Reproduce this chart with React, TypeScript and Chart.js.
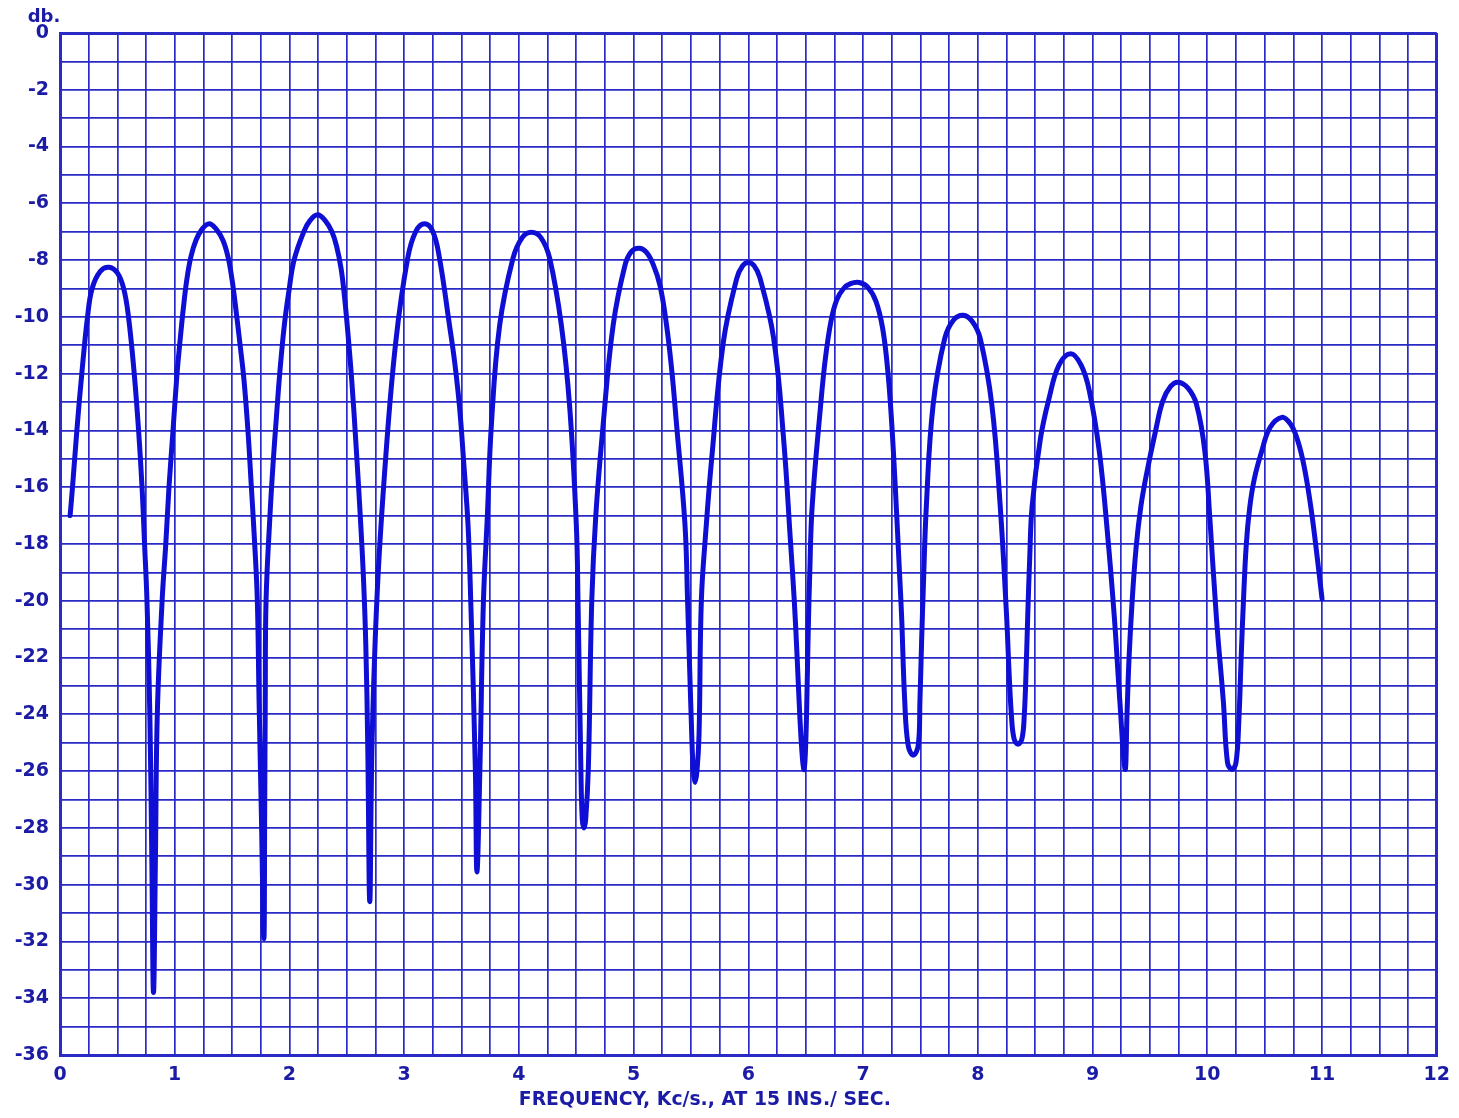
import React, { useEffect, useRef } from 'react';
import { Chart, registerables } from 'chart.js';

Chart.register(...registerables);

// Frequency (Kc/s), one line per lobe
const frequencyKc: number[] = [
  0.088, 0.109, 0.147, 0.19, 0.24, 0.28, 0.35, 0.426, 0.5, 0.555, 0.597, 0.647, 0.685, 0.715, 0.737, 0.758, 0.783, 0.8,
  0.815, 0.832, 0.848, 0.89, 0.922, 0.95, 0.985, 1.02, 1.045, 1.075, 1.105, 1.14, 1.185, 1.24, 1.3, 1.36, 1.42, 1.465, 1.5, 1.535, 1.57, 1.603, 1.638, 1.668, 1.697, 1.72, 1.735, 1.755,
  1.777, 1.784, 1.789, 1.796, 1.83, 1.86, 1.885, 1.915, 1.955, 1.995, 2.04, 2.125, 2.18, 2.245, 2.31, 2.37, 2.41, 2.45, 2.48, 2.51, 2.544, 2.58, 2.617, 2.645, 2.665, 2.682,
  2.7, 2.72, 2.765, 2.838, 2.926, 3.03, 3.1, 3.177, 3.25, 3.308, 3.395, 3.44, 3.483, 3.52, 3.556, 3.58, 3.62,
  3.634, 3.66, 3.69, 3.725, 3.76, 3.832, 3.948, 4.03, 4.108, 4.19, 4.268, 4.37, 4.443, 4.5, 4.515, 4.54, 4.552,
  4.567, 4.582, 4.605, 4.635, 4.67, 4.734, 4.821, 4.923, 4.98, 5.048, 5.11, 5.17, 5.23, 5.287, 5.335, 5.374, 5.447, 5.47, 5.506, 5.52,
  5.535, 5.552, 5.57, 5.59, 5.63, 5.68, 5.782, 5.898, 5.95, 6.0, 6.05, 6.1, 6.22, 6.307, 6.366, 6.4, 6.425, 6.45, 6.472,
  6.486, 6.5, 6.512, 6.522, 6.535, 6.556, 6.63, 6.67, 6.72, 6.77, 6.83, 6.89, 6.966, 7.04, 7.112, 7.17, 7.215, 7.25, 7.283, 7.317, 7.335, 7.363, 7.393,
  7.437, 7.48, 7.495, 7.51, 7.525, 7.551, 7.61, 7.712, 7.79, 7.873, 7.95, 8.02, 8.122, 8.195, 8.25, 8.272, 8.292, 8.315,
  8.35, 8.385, 8.405, 8.42, 8.435, 8.452, 8.473, 8.545, 8.62, 8.707, 8.81, 8.9, 8.971, 9.058, 9.131, 9.19, 9.238,
  9.283, 9.3, 9.318, 9.345, 9.38, 9.42, 9.467, 9.555, 9.613, 9.68, 9.745, 9.83, 9.905, 9.978, 10.022, 10.08, 10.14, 10.176,
  10.214, 10.25, 10.275, 10.295, 10.315, 10.34, 10.37, 10.41, 10.475, 10.548, 10.65, 10.72, 10.775, 10.83, 10.88, 10.927, 11.0,
];

// Response (db) at each frequency above, same line layout
const responseDb: number[] = [
  -17.0, -16.0, -14.0, -12.0, -10.0, -9.0, -8.4, -8.25, -8.45, -9.0, -10.0, -12.0, -14.0, -16.0, -18.0, -20.0, -24.0, -29.0,
  -33.8, -29.0, -24.0, -20.0, -18.0, -16.0, -14.0, -12.0, -10.9, -9.7, -8.7, -7.9, -7.3, -6.9, -6.72, -6.9, -7.3, -7.9, -8.7, -9.8, -11.0, -12.2, -14.0, -16.0, -18.0, -20.0, -23.5, -27.5,
  -31.9, -27.5, -23.5, -20.0, -17.0, -15.0, -13.6, -12.0, -10.3, -9.1, -8.0, -7.0, -6.6, -6.4, -6.6, -7.0, -7.5, -8.3, -9.3, -10.6, -12.3, -14.5, -17.0, -19.2, -21.5, -25.0,
  -30.6, -25.0, -19.7, -15.0, -10.9, -7.94, -7.0, -6.72, -7.0, -7.94, -10.3, -11.6, -13.2, -15.2, -17.3, -20.0, -25.9,
  -29.55, -25.9, -20.1, -17.0, -13.8, -10.3, -7.94, -7.2, -7.02, -7.2, -7.94, -10.3, -13.2, -17.3, -20.0, -25.9, -27.7,
  -28.0, -27.7, -25.9, -20.0, -17.0, -13.8, -10.3, -8.2, -7.7, -7.58, -7.72, -8.15, -8.9, -10.3, -12.0, -13.8, -17.3, -20.0, -24.7, -26.0,
  -26.4, -26.0, -24.7, -20.0, -17.5, -15.0, -10.88, -8.65, -8.2, -8.08, -8.2, -8.62, -10.75, -14.3, -17.86, -20.0, -22.0, -24.2, -25.6,
  -25.94, -25.0, -23.0, -21.0, -19.0, -16.67, -13.1, -11.5, -10.15, -9.4, -9.0, -8.83, -8.79, -8.95, -9.45, -10.4, -11.9, -13.8, -16.2, -19.0, -20.5, -23.56, -25.1,
  -25.44, -25.1, -23.56, -21.4, -19.5, -16.67, -13.1, -10.75, -10.1, -9.94, -10.15, -10.75, -13.1, -16.67, -20.5, -22.5, -24.0, -24.85,
  -25.05, -24.85, -24.0, -22.5, -20.5, -18.5, -16.67, -14.3, -12.88, -11.7, -11.3, -11.7, -12.59, -14.72, -17.68, -20.6, -23.56,
  -25.94, -24.0, -22.0, -20.0, -18.1, -16.7, -15.6, -13.9, -12.95, -12.45, -12.3, -12.5, -13.07, -14.72, -17.09, -20.64, -23.56, -25.7,
  -25.94, -25.7, -24.2, -22.0, -20.0, -18.0, -16.7, -15.7, -14.72, -13.89, -13.54, -13.75, -14.2, -15.0, -16.1, -17.44, -19.93,
];

const xLabelValues: number[] = [0, 1, 2, 3, 4, 5, 6, 7, 8, 9, 10, 11, 12];
const yLabelValues: number[] = [0, -2, -4, -6, -8, -10, -12, -14, -16, -18, -20, -22, -24, -26, -28, -30, -32, -34, -36];

const Y_UNIT = 'db.';
const X_TITLE = 'FREQUENCY, Kc/s., AT 15 INS./ SEC.';
const TITLE_CENTER_KC = 5.62;

const INK = '#1b1ba6';
const GRID = '#2a2ac6';
const CURVE = '#0e0ed4';
const FONT = '"DejaVu Sans", sans-serif';

const paperText = {
  id: 'paperText',
  afterDraw(chart: any) {
    const { ctx, chartArea } = chart;
    const xs = chart.scales.x;
    ctx.save();
    ctx.fillStyle = INK;
    ctx.textAlign = 'center';
    ctx.textBaseline = 'middle';
    ctx.font = `bold 18px ${FONT}`;
    ctx.fillText(Y_UNIT, chartArea.left - 16, chartArea.top - 16);
    ctx.font = `bold 20px ${FONT}`;
    const w = ctx.measureText(X_TITLE).width;
    const sx = 372 / w;
    ctx.translate(xs.getPixelForValue(TITLE_CENTER_KC), chartArea.bottom + 45);
    ctx.scale(sx, 1);
    ctx.fillText(X_TITLE, 0, 0);
    ctx.restore();
  },
};

export default function App() {
  const canvasRef = useRef<HTMLCanvasElement | null>(null);

  useEffect(() => {
    if (!canvasRef.current) return;
    const n = Math.min(frequencyKc.length, responseDb.length);
    const points = frequencyKc.slice(0, n).map((f, i) => ({ x: f, y: responseDb[i] }));
    const edgeX = (c: any) => (c.tick && (c.tick.value === 0 || c.tick.value === 12) ? 3 : 1.7);
    const edgeY = (c: any) => (c.tick && (c.tick.value === 0 || c.tick.value === -36) ? 3 : 1.7);
    const chart = new Chart(canvasRef.current, {
      type: 'line',
      data: {
        datasets: [
          {
            data: points,
            borderColor: CURVE,
            borderWidth: 5,
            pointRadius: 0,
            tension: 0.4,
            borderCapStyle: 'round',
            borderJoinStyle: 'round',
            fill: false,
          },
        ],
      },
      options: {
        animation: false,
        responsive: false,
        devicePixelRatio: 1,
        parsing: false as any,
        layout: { padding: { left: 0, right: 22, top: 33, bottom: 0 } },
        plugins: { legend: { display: false }, tooltip: { enabled: false }, title: { display: false } },
        scales: {
          x: {
            type: 'linear',
            min: 0,
            max: 12,
            afterFit: (s: any) => {
              s.height = 63;
            },
            border: { display: true, color: GRID, width: 3 },
            grid: { color: GRID, lineWidth: edgeX, drawTicks: false },
            ticks: {
              stepSize: 0.25,
              autoSkip: false,
              maxRotation: 0,
              padding: 9,
              color: INK,
              font: { family: FONT, size: 19, weight: 'bold' },
              callback: (v: any) => (xLabelValues.includes(Number(v)) ? String(v) : ''),
            },
          },
          y: {
            type: 'linear',
            min: -36,
            max: 0,
            afterFit: (s: any) => {
              s.width = 60;
            },
            border: { display: true, color: GRID, width: 3 },
            grid: { color: GRID, lineWidth: edgeY, drawTicks: false },
            ticks: {
              stepSize: 1,
              autoSkip: false,
              padding: 11,
              color: INK,
              font: { family: FONT, size: 19, weight: 'bold' },
              callback: (v: any) => (yLabelValues.includes(Number(v)) ? String(v) : ''),
            },
          },
        },
      },
      plugins: [paperText],
    });
    return () => chart.destroy();
  }, []);

  return (
    <div style={{ position: 'absolute', left: 0, top: 0, width: 1459, height: 1118, background: '#ffffff', overflow: 'hidden' }}>
      <canvas ref={canvasRef} width={1459} height={1118} style={{ width: 1459, height: 1118, display: 'block' }} />
    </div>
  );
}
